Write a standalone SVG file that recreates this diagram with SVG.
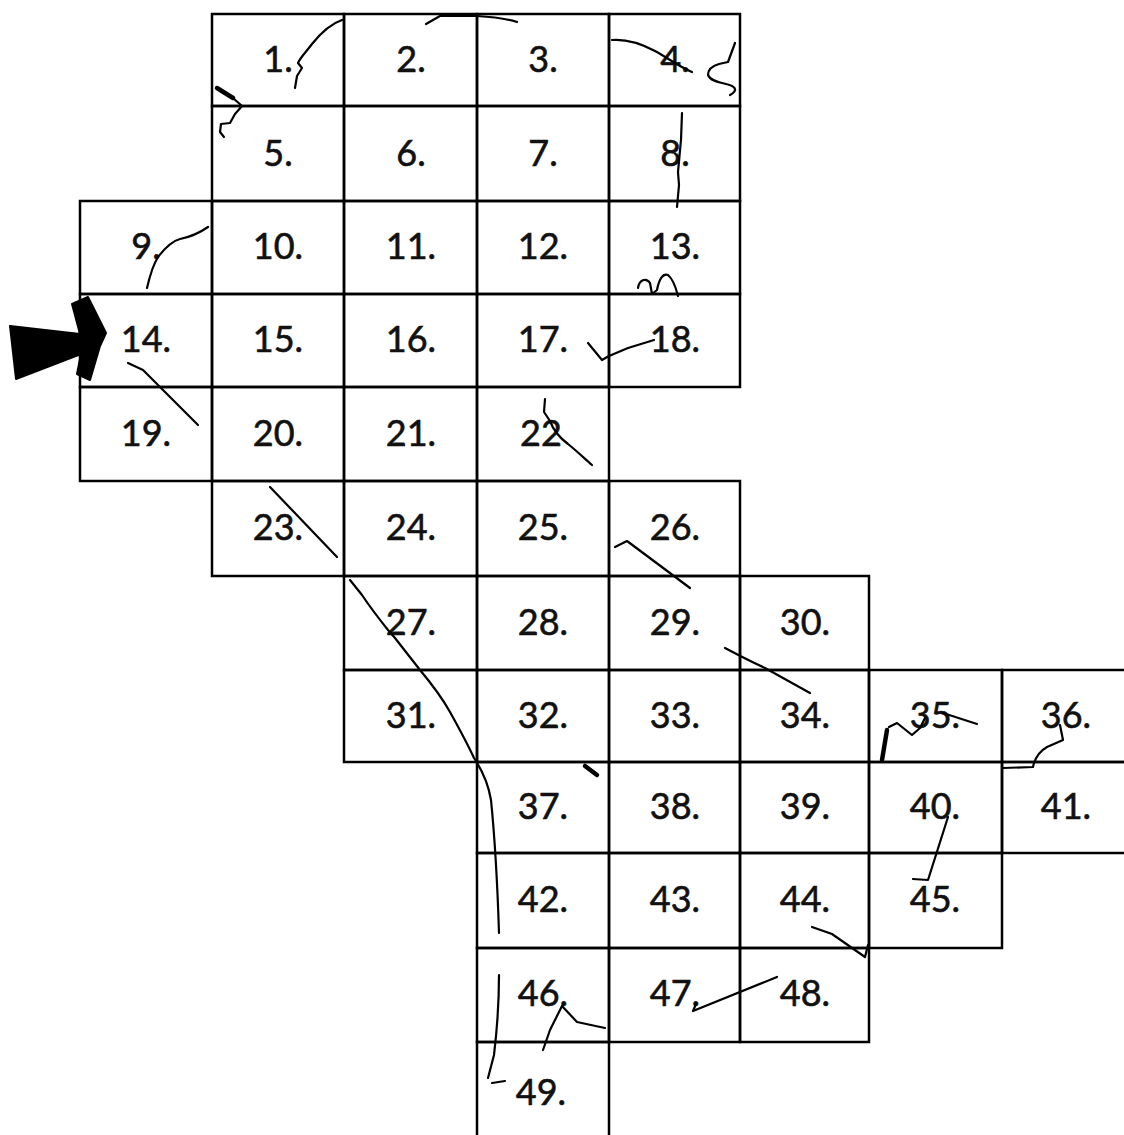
<svg xmlns="http://www.w3.org/2000/svg" width="1124" height="1135" viewBox="0 0 1124 1135">
<style>
.c rect{fill:none;stroke:#000;stroke-width:2.5}
.c text{font-family:Lato,"Open Sans","Liberation Sans",sans-serif;font-size:36px;fill:#111;stroke:#111;stroke-width:0.6;text-anchor:middle}
.ink{fill:none;stroke:#000;stroke-width:2.2;stroke-linecap:round;stroke-linejoin:round}
.thick{stroke-width:4.5}
</style>
<rect width="1124" height="1135" fill="#fff"/>
<g id="cells" class="c">
<g id="n1"><rect x="212" y="14" width="132" height="92"/><text x="278" y="72">1.</text></g>
<g id="n2"><rect x="344" y="14" width="133" height="92"/><text x="411" y="72">2.</text></g>
<g id="n3"><rect x="477" y="14" width="132" height="92"/><text x="543" y="72">3.</text></g>
<g id="n4"><rect x="609" y="14" width="131" height="92"/><text x="675" y="72">4.</text></g>
<g id="n5"><rect x="212" y="106" width="132" height="95"/><text x="278" y="166">5.</text></g>
<g id="n6"><rect x="344" y="106" width="133" height="95"/><text x="411" y="166">6.</text></g>
<g id="n7"><rect x="477" y="106" width="132" height="95"/><text x="543" y="166">7.</text></g>
<g id="n8"><rect x="609" y="106" width="131" height="95"/><text x="675" y="166">8.</text></g>
<g id="n9"><rect x="80" y="201" width="132" height="93"/><text x="146" y="259">9.</text></g>
<g id="n10"><rect x="212" y="201" width="132" height="93"/><text x="278" y="259">10.</text></g>
<g id="n11"><rect x="344" y="201" width="133" height="93"/><text x="411" y="259">11.</text></g>
<g id="n12"><rect x="477" y="201" width="132" height="93"/><text x="543" y="259">12.</text></g>
<g id="n13"><rect x="609" y="201" width="131" height="93"/><text x="675" y="259">13.</text></g>
<g id="n14"><rect x="80" y="294" width="132" height="93"/><text x="146" y="352">14.</text></g>
<g id="n15"><rect x="212" y="294" width="132" height="93"/><text x="278" y="352">15.</text></g>
<g id="n16"><rect x="344" y="294" width="133" height="93"/><text x="411" y="352">16.</text></g>
<g id="n17"><rect x="477" y="294" width="132" height="93"/><text x="543" y="352">17.</text></g>
<g id="n18"><rect x="609" y="294" width="131" height="93"/><text x="675" y="352">18.</text></g>
<g id="n19"><rect x="80" y="387" width="132" height="94"/><text x="146" y="446">19.</text></g>
<g id="n20"><rect x="212" y="387" width="132" height="94"/><text x="278" y="446">20.</text></g>
<g id="n21"><rect x="344" y="387" width="133" height="94"/><text x="411" y="446">21.</text></g>
<g id="n22"><rect x="477" y="387" width="132" height="94"/><text x="541" y="446">22</text></g>
<g id="n23"><rect x="212" y="481" width="132" height="95"/><text x="278" y="540">23.</text></g>
<g id="n24"><rect x="344" y="481" width="133" height="95"/><text x="411" y="540">24.</text></g>
<g id="n25"><rect x="477" y="481" width="132" height="95"/><text x="543" y="540">25.</text></g>
<g id="n26"><rect x="609" y="481" width="131" height="95"/><text x="675" y="540">26.</text></g>
<g id="n27"><rect x="344" y="576" width="133" height="94"/><text x="411" y="635">27.</text></g>
<g id="n28"><rect x="477" y="576" width="132" height="94"/><text x="543" y="635">28.</text></g>
<g id="n29"><rect x="609" y="576" width="131" height="94"/><text x="675" y="635">29.</text></g>
<g id="n30"><rect x="740" y="576" width="129" height="94"/><text x="805" y="635">30.</text></g>
<g id="n31"><rect x="344" y="670" width="133" height="92"/><text x="411" y="728">31.</text></g>
<g id="n32"><rect x="477" y="670" width="132" height="92"/><text x="543" y="728">32.</text></g>
<g id="n33"><rect x="609" y="670" width="131" height="92"/><text x="675" y="728">33.</text></g>
<g id="n34"><rect x="740" y="670" width="129" height="92"/><text x="805" y="728">34.</text></g>
<g id="n35"><rect x="869" y="670" width="133" height="92"/><text x="935" y="728">35.</text></g>
<g id="n36"><rect x="1002" y="670" width="126" height="92"/><text x="1066" y="728">36.</text></g>
<g id="n37"><rect x="477" y="762" width="132" height="91"/><text x="543" y="819">37.</text></g>
<g id="n38"><rect x="609" y="762" width="131" height="91"/><text x="675" y="819">38.</text></g>
<g id="n39"><rect x="740" y="762" width="129" height="91"/><text x="805" y="819">39.</text></g>
<g id="n40"><rect x="869" y="762" width="133" height="91"/><text x="935" y="819">40.</text></g>
<g id="n41"><rect x="1002" y="762" width="126" height="91"/><text x="1066" y="819">41.</text></g>
<g id="n42"><rect x="477" y="853" width="132" height="95"/><text x="543" y="912">42.</text></g>
<g id="n43"><rect x="609" y="853" width="131" height="95"/><text x="675" y="912">43.</text></g>
<g id="n44"><rect x="740" y="853" width="129" height="95"/><text x="805" y="912">44.</text></g>
<g id="n45"><rect x="869" y="853" width="133" height="95"/><text x="935" y="912">45.</text></g>
<g id="n46"><rect x="477" y="948" width="132" height="94"/><text x="543" y="1006">46.</text></g>
<g id="n47"><rect x="609" y="948" width="131" height="94"/><text x="675" y="1006">47.</text></g>
<g id="n48"><rect x="740" y="948" width="129" height="94"/><text x="805" y="1006">48.</text></g>
<g id="n49"><rect x="477" y="1042" width="132" height="96"/><text x="541" y="1105">49.</text></g>
</g>
<g id="connectors">
<path class="ink" d="M342,20 C330,24 320,34 312,44 C306,52 300,58 298,63 L302,68 L297,76 L295,88"/>
<path class="ink thick" d="M217,88 L233,98"/>
<path class="ink" d="M233,98 L242,106 L235,114 L230,123 L221,124 L220,132 L224,137"/>
<path class="ink" d="M147,288 C150,275 153,265 158,257 C165,248 172,241 180,239 C190,237 198,234 208,227"/>
<path class="ink" d="M426,24 L440,16 L477,16 C495,17 507,19 517,22"/>
<path class="ink" d="M612,40 C625,39 640,43 655,51 C668,58 678,66 692,72"/>
<path class="ink" d="M735,43 L728,62 L719,64 C712,66 708,70 708,75 C710,80 716,82 726,84 C735,86 739,90 730,95"/>
<path class="ink" d="M682,113 L681,140 L678,172 L679,185 L677,207"/>
<path class="ink" d="M638,288 C639,280 646,277 650,283 L652,294 L657,290 C659,279 663,273 668,275 C673,279 676,288 678,296"/>
<path class="ink" d="M128,363 L143,370 L198,425"/>
<path class="ink" d="M270,487 L337,557"/>
<path class="ink" d="M588,343 L602,360 L609,356 L628,348 L654,340"/>
<path class="ink" d="M545,399 L544,412 L550,421 C554,432 560,438 568,444 C578,452 586,460 592,465"/>
<path class="ink" d="M615,547 L627,541 L690,588"/>
<path class="ink" d="M350,580 L362,595 C372,610 380,620 388,630 L395,638 L420,670 C430,682 440,694 450,712 C460,730 468,745 474,758 C482,770 488,782 491,800 C494,830 497,870 499,933"/>
<path class="ink" d="M499,975 C499,1000 497,1030 494,1055 L488,1078"/>
<path class="ink" d="M492,1083 L505,1081"/>
<path class="ink thick" d="M585,766 L597,775"/>
<path class="ink" d="M725,648 C740,656 752,662 765,668 L810,693"/>
<path class="ink thick" d="M887,730 L882,760"/>
<path class="ink" d="M889,727 L897,723 L912,735 L920,728 L925,718"/>
<path class="ink" d="M943,713 L977,724"/>
<path class="ink" d="M1060,725 L1063,740 L1047,747 C1040,751 1035,757 1033,767 L1003,768"/>
<path class="ink" d="M948,817 L928,880 L913,879"/>
<path class="ink" d="M812,927 L832,934 L865,957 L868,945"/>
<path class="ink" d="M777,977 L693,1011 L696,1004"/>
<path class="ink" d="M543,1050 L550,1030 L562,1006 L577,1022 L605,1028"/>
<polygon id="arrow" fill="#000" stroke="#000" stroke-width="2" stroke-linejoin="round" points="10,326 80,334 72,304 88,297 106,333 100,346 90,380 77,374 81,354 16,379"/>
</g>
</svg>
